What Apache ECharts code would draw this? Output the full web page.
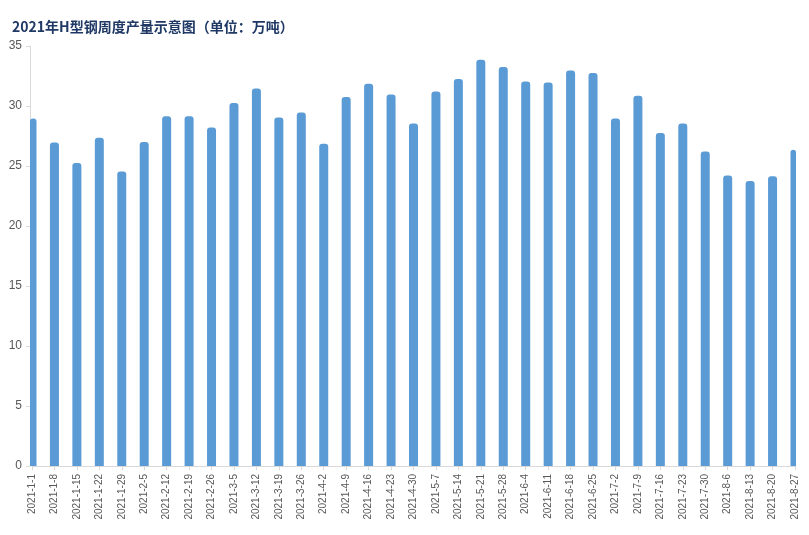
<!DOCTYPE html>
<html>
<head>
<meta charset="utf-8">
<script src="https://cdn.jsdelivr.net/npm/echarts@6/dist/echarts.min.js"></script>
<style>
html,body{margin:0;padding:0;background:#fff;}
#chart{width:809px;height:535px;}
</style>
</head>
<body>
<div id="chart"></div>
<script>
var titleText = '2021年H型钢周度产量示意图（单位：万吨）';
var categories = ['2021-1-1','2021-1-8','2021-1-15','2021-1-22','2021-1-29','2021-2-5','2021-2-12','2021-2-19','2021-2-26','2021-3-5','2021-3-12','2021-3-19','2021-3-26','2021-4-2','2021-4-9','2021-4-16','2021-4-23','2021-4-30','2021-5-7','2021-5-14','2021-5-21','2021-5-28','2021-6-4','2021-6-11','2021-6-18','2021-6-25','2021-7-2','2021-7-9','2021-7-16','2021-7-23','2021-7-30','2021-8-6','2021-8-13','2021-8-20','2021-8-27'];
var output = [28.95,26.95,25.25,27.35,24.55,27.0,29.15,29.15,28.2,30.25,31.45,29.05,29.45,26.85,30.75,31.85,30.95,28.55,31.2,32.25,33.85,33.25,32.05,31.95,32.95,32.75,28.95,30.85,27.75,28.55,26.2,24.2,23.75,24.15,26.35];
var yTicks = {min:0, max:35, interval:5};

var BAR_W = 9;
function renderBar(params, api) {
  var idx = api.value(0);
  var top = api.coord([idx, api.value(1)]);
  var base = api.coord([idx, 0]);
  var cs = params.coordSys;
  var rect = echarts.graphic.clipRectByRect(
    {x: top[0] - BAR_W / 2, y: top[1], width: BAR_W, height: base[1] - top[1]},
    {x: cs.x - 2, y: cs.y, width: cs.width + 3, height: cs.height}
  );
  if (!rect) return null;
  return {
    type: 'rect',
    shape: {x: rect.x, y: rect.y, width: rect.width, height: rect.height, r: [3, 3, 0, 0]},
    style: {fill: '#5B9BD5'}
  };
}

var seriesData = output.map(function (v, i) { return [i, v]; });

var chart = echarts.init(document.getElementById('chart'), null, {renderer:'canvas'});
chart.setOption({
  animation:false,
  backgroundColor:'#ffffff',
  title:{
    text:titleText,
    left:7, top:15,
    textStyle:{fontSize:14, fontWeight:'bold', color:'#1F3864', fontFamily:'"Noto Sans CJK SC", sans-serif'}
  },
  grid:{left:32, right:14, top:46, bottom:69, containLabel:false},
  xAxis:{
    type:'category',
    data:categories,
    boundaryGap:false,
    axisLine:{lineStyle:{color:'#D9D9D9', width:1}},
    axisTick:{show:true, length:4, lineStyle:{color:'#D9D9D9'}},
    axisLabel:{rotate:90, interval:0, margin:8, fontSize:10, color:'#595959', fontFamily:'"Liberation Sans", Arial, sans-serif'},
    splitLine:{show:false}
  },
  yAxis:{
    type:'value',
    min:yTicks.min, max:yTicks.max, interval:yTicks.interval,
    offset:2,
    axisLine:{show:true, lineStyle:{color:'#D9D9D9', width:1}},
    axisTick:{show:true, length:4, lineStyle:{color:'#D9D9D9'}},
    axisLabel:{fontSize:12, color:'#595959', margin:8, fontFamily:'"Liberation Sans", Arial, sans-serif'},
    splitLine:{show:false}
  },
  series:[{
    type:'custom',
    renderItem: renderBar,
    encode:{x:0, y:1},
    data:seriesData,
    z:1
  }]
});
</script>
</body>
</html>
